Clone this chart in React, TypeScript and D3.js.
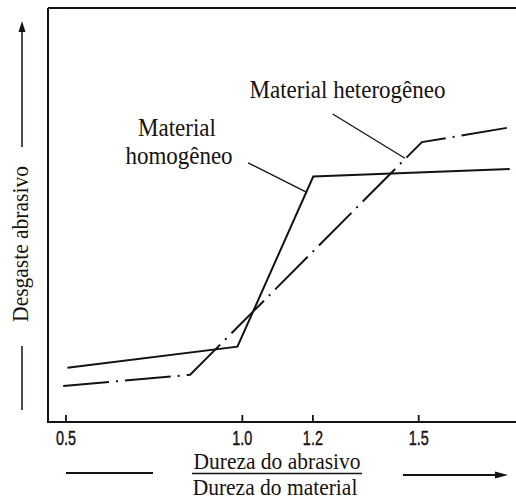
import React from "react";
import * as d3 from "d3";

// ratio values (Dureza do abrasivo / Dureza do material) and wear (arbitrary units)
const homogeneoX = [0.504, 0.986, 1.201, 1.758];
const homogeneoY = [13.1, 18.2, 59.3, 61.1];
const heterogeneoX = [0.492, 0.852, 1.509, 1.761];
const heterogeneoY = [8.7, 11.4, 67.6, 71.2];

const tickValues = [0.5, 1.0, 1.2, 1.5];
const tickLabels = ["0.5", "1.0", "1.2", "1.5"];

// leader lines from the labels to the curves, in data units
const leaderHomogeneo = [[1.016, 62.6], [1.18, 55.6]];
const leaderHeterogeneo = [[1.256, 74.4], [1.461, 63.7]];

const W = 516;
const H = 500;
const ink = "#161210";
const serif = "'Liberation Serif', 'Times New Roman', serif";

// serif text, slightly taller than the stock font like the scanned lettering
function Label({ x, y, size, children }: { x: number; y: number; size: number; children: React.ReactNode }) {
  return (
    <text
      transform={`translate(${x},${y}) scale(1,1.1)`}
      textAnchor="middle"
      fontFamily={serif}
      fontSize={size}
      fill={ink}
    >
      {children}
    </text>
  );
}

export default function App() {
  const x = d3.scaleLinear().domain([0.5, 1.5]).range([66, 418.7]);
  const y = d3.scaleLinear().domain([0, 100]).range([422, 8]);

  const path = (xs: number[], ys: number[]) =>
    d3.line<number>()
      .x(v => x(v))
      .y((_, i) => y(ys[i]))(xs) as string;

  const left = x.invert(48);
  const right = x.invert(516);

  return (
    <svg
      width={W}
      height={H}
      style={{ position: "absolute", left: 0, top: 0, background: "#fff" }}
    >
      {/* frame: left axis, bottom axis, top border */}
      <path
        d={`M${x(left)},${y(100)} H${x(right)} M${x(left)},${y(100)} V${y(0)} H${x(right)}`}
        fill="none"
        stroke={ink}
        strokeWidth={2}
      />

      {/* ticks */}
      {tickValues.map((t, i) => (
        <g key={t} transform={`translate(${x(t)},${y(0)})`}>
          <line y1={0} y2={-7} stroke={ink} strokeWidth={1.8} />
          <text
            transform="translate(0,22.5) scale(0.76,1.05)"
            textAnchor="middle"
            fontFamily="'Liberation Sans', Arial, sans-serif"
            fontSize={19}
            fill={ink}
            stroke={ink}
            strokeWidth={0.4}
          >
            {tickLabels[i]}
          </text>
        </g>
      ))}

      {/* curves */}
      <path d={path(homogeneoX, homogeneoY)} fill="none" stroke={ink} strokeWidth={2} />
      <path
        d={path(heterogeneoX, heterogeneoY)}
        fill="none"
        stroke={ink}
        strokeWidth={2}
        strokeDasharray="46 7 2 7"
      />

      {/* leaders */}
      {[leaderHomogeneo, leaderHeterogeneo].map((l, i) => (
        <line
          key={i}
          x1={x(l[0][0])}
          y1={y(l[0][1])}
          x2={x(l[1][0])}
          y2={y(l[1][1])}
          stroke={ink}
          strokeWidth={1.3}
        />
      ))}

      {/* labels */}
      <Label x={177} y={135.5} size={23}>Material</Label>
      <Label x={179} y={164} size={23}>homogêneo</Label>
      <Label x={347.5} y={98} size={23}>Material heterogêneo</Label>

      {/* y axis title */}
      <text
        transform="translate(28,244) rotate(-90) scale(1,1.1)"
        textAnchor="middle"
        fontFamily={serif}
        fontSize={21.5}
        fill={ink}
      >
        Desgaste abrasivo
      </text>
      <line x1={22} y1={30} x2={22} y2={147} stroke={ink} strokeWidth={1.5} />
      <path d="M22,21 L25.5,32 L18.5,32 Z" fill={ink} />
      <line x1={22} y1={346} x2={22} y2={410} stroke={ink} strokeWidth={1.5} />

      {/* x axis title */}
      <Label x={277} y={469} size={21.5}>Dureza do abrasivo</Label>
      <Label x={275} y={495} size={21.5}>Dureza do material</Label>
      <line x1={192} y1={473.5} x2={362} y2={473.5} stroke={ink} strokeWidth={1.3} />
      <line x1={66} y1={473} x2={153} y2={473} stroke={ink} strokeWidth={1.8} />
      <line x1={403} y1={475} x2={497} y2={475} stroke={ink} strokeWidth={1.8} />
      <path d="M508,475 L495,471.5 L495,478.5 Z" fill={ink} />
    </svg>
  );
}
